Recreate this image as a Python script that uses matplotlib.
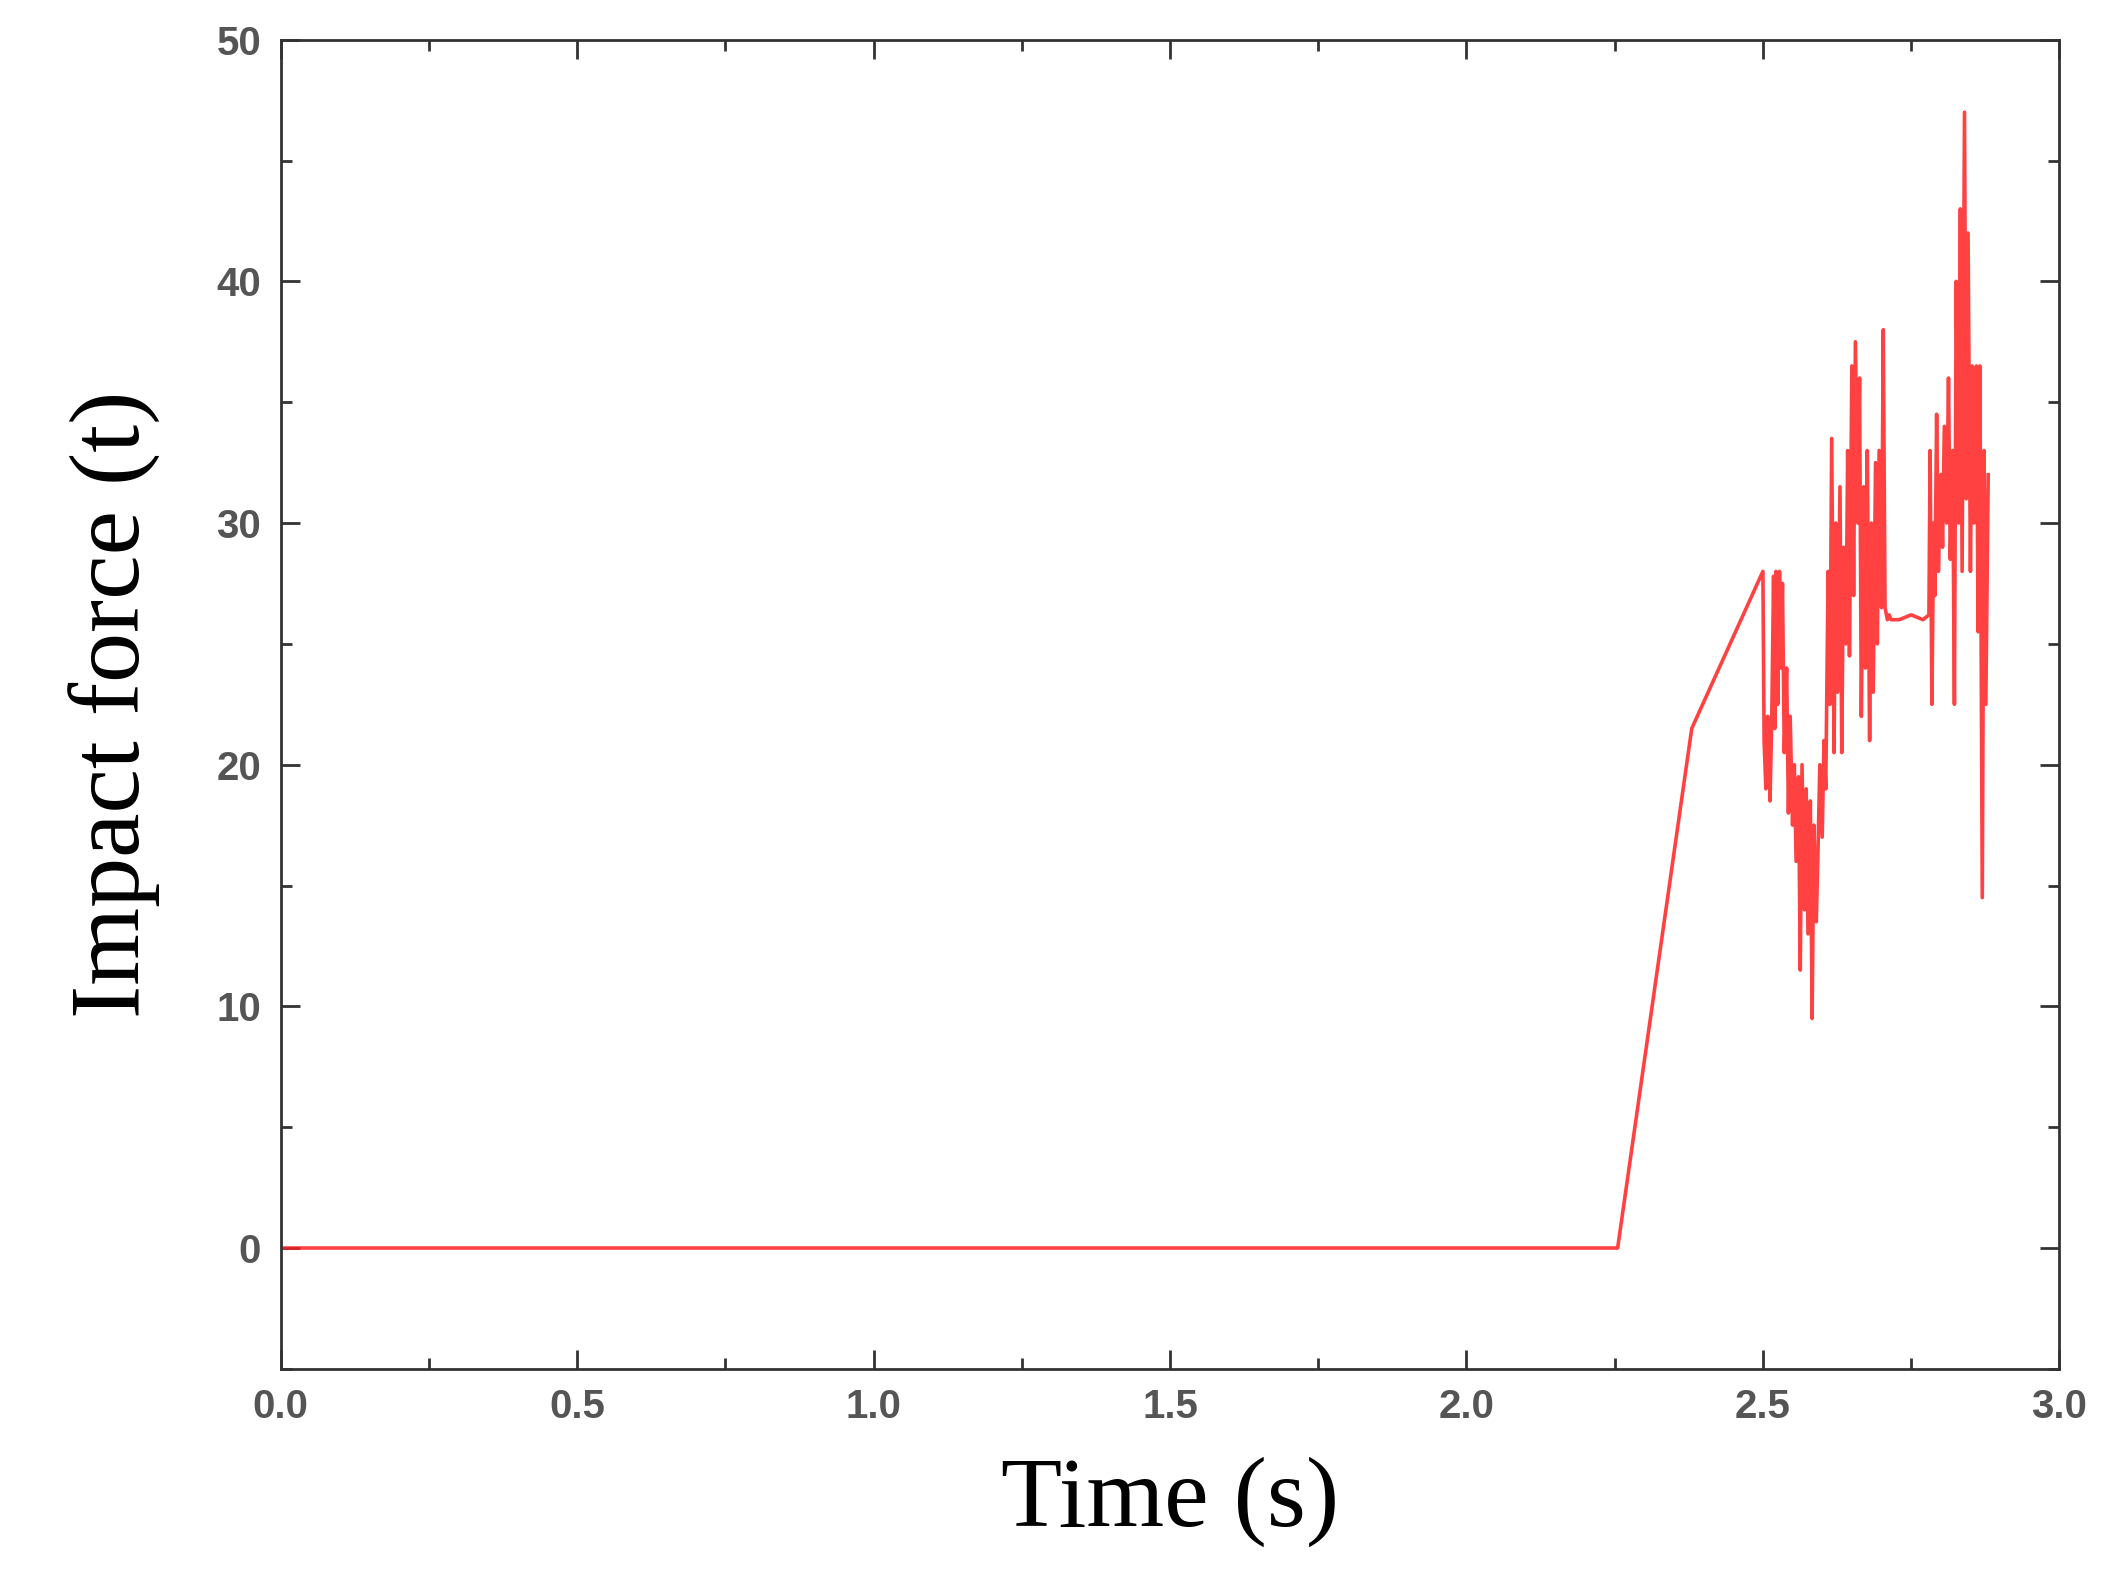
import matplotlib.pyplot as plt
from matplotlib.ticker import MultipleLocator

t = [0.0, 2.255, 2.38, 2.50, 2.502, 2.505, 2.508, 2.51, 2.512, 2.515, 2.518, 2.52, 2.522, 2.525,
     2.528, 2.53, 2.533, 2.536, 2.54, 2.543, 2.546, 2.55, 2.553, 2.556, 2.56, 2.563, 2.566,
     2.57, 2.573, 2.576, 2.58, 2.583, 2.586, 2.59, 2.593, 2.596, 2.60, 2.603, 2.606, 2.61,
     2.613, 2.616, 2.62, 2.623, 2.626, 2.63, 2.633, 2.636, 2.64, 2.643, 2.646, 2.65, 2.653,
     2.656, 2.66, 2.663, 2.666, 2.67, 2.673, 2.676, 2.68, 2.683, 2.686, 2.69, 2.693, 2.696,
     2.70, 2.703, 2.706, 2.71, 2.713, 2.716, 2.72, 2.73, 2.75, 2.77, 2.78, 2.782, 2.785,
     2.788, 2.79, 2.793, 2.796, 2.80, 2.803, 2.806, 2.81, 2.813, 2.816, 2.82, 2.823, 2.826,
     2.83, 2.833, 2.836, 2.84, 2.843, 2.846, 2.85, 2.853, 2.856, 2.86, 2.863, 2.866, 2.87,
     2.873, 2.876, 2.88]
force = [0.0, 0.0, 21.5, 28.0, 21.0, 19.0, 22.0, 21.5, 18.5, 22.0, 27.8, 21.5, 28.0, 22.5,
         28.0, 24.0, 27.5, 20.5, 24.0, 18.0, 22.0, 17.5, 20.0, 16.0, 19.5, 11.5, 20.0,
         14.0, 19.0, 13.0, 18.5, 9.5, 17.5, 13.5, 16.5, 20.0, 17.0, 21.0, 19.0, 28.0,
         22.5, 33.5, 20.5, 30.0, 23.0, 31.5, 20.5, 29.0, 25.0, 33.0, 24.5, 36.5, 27.0,
         37.5, 30.0, 36.0, 22.0, 31.5, 24.0, 33.0, 21.0, 30.0, 23.0, 32.5, 25.0, 33.0,
         26.5, 38.0, 26.5, 26.0, 26.2, 26.0, 26.0, 26.0, 26.2, 26.0, 26.2, 33.0, 22.5,
         30.0, 27.0, 34.5, 28.0, 32.0, 29.0, 34.0, 30.0, 36.0, 28.5, 33.0, 22.5, 40.0,
         30.0, 43.0, 28.0, 47.0, 31.0, 42.0, 28.0, 36.5, 30.0, 36.5, 25.5, 36.5, 14.5,
         33.0, 22.5, 32.0]

plt.rcParams['font.family'] = ['Liberation Sans', 'DejaVu Sans']
fig = plt.figure(figsize=(21.1, 15.88), dpi=100)
ax = fig.add_axes([0.133, 0.138, 0.843, 0.837])
ax.plot(t, force, color='#ff2020', lw=2.6, alpha=0.85)

ax.set_xlim(0, 3)
ax.set_ylim(-5, 50)
ax.xaxis.set_major_locator(MultipleLocator(0.5))
ax.xaxis.set_minor_locator(MultipleLocator(0.25))
ax.yaxis.set_major_locator(MultipleLocator(10))
ax.yaxis.set_minor_locator(MultipleLocator(5))
ax.tick_params(which='both', direction='in', top=True, right=True, width=2, color='#333333')
ax.tick_params(which='major', length=14, labelsize=29, labelcolor='#555555', pad=14)
ax.tick_params(which='minor', length=8)
for lab in ax.get_xticklabels() + ax.get_yticklabels():
    lab.set_fontweight('bold')
for s in ax.spines.values():
    s.set_linewidth(2)
    s.set_color('#333333')

ax.set_xlabel('Time (s)', family='Liberation Serif', fontsize=72, labelpad=22)
ax.set_ylabel('Impact force (t)', family='Liberation Serif', fontsize=72, labelpad=40)

fig.savefig('out.png')
